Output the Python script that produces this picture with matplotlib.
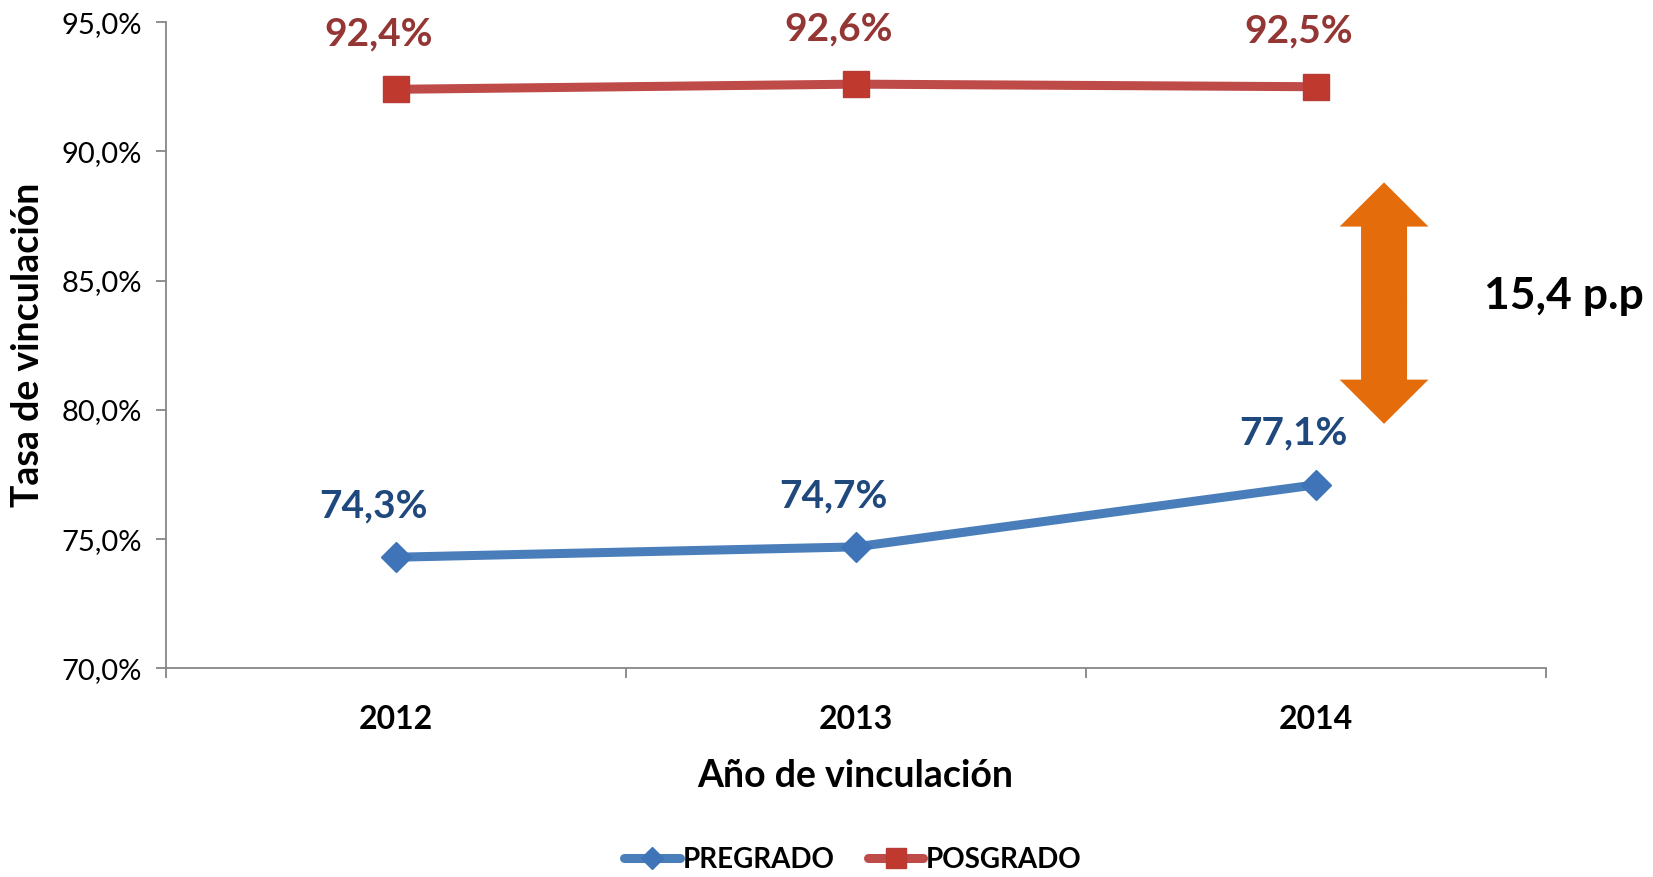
import matplotlib.pyplot as plt
from matplotlib.patches import FancyArrow
from matplotlib.ticker import FuncFormatter

plt.rcParams["font.family"] = ["Lato", "DejaVu Sans"]

# data
years = ["2012", "2013", "2014"]
pregrado = [74.3, 74.7, 77.1]
posgrado = [92.4, 92.6, 92.5]
gap_label = "15,4 p.p"

blue = "#4A7EBB"
red = "#BE4B48"
blue_txt = "#1F497D"
red_txt = "#943634"

fig = plt.figure(figsize=(16.53, 8.77), dpi=100)
ax = fig.add_axes([165.5 / 1653, 1 - 668.4 / 877, 1380 / 1653, 646.3 / 877])

x = list(range(len(years)))
ax.plot(x, pregrado, color=blue, lw=6.5, marker="D", ms=15,
        mfc="#3F75B8", mec="#3F75B8", label="PREGRADO", solid_capstyle="round")
ax.plot(x, posgrado, color=red, lw=6.5, marker="s", ms=19,
        mfc="#C0392F", mec="#B73A36", label="POSGRADO", solid_capstyle="round")

for xi, v in zip(x, pregrado):
    ax.annotate(f"{v:.1f}%".replace(".", ","), (xi, v), xytext=(-16, 37),
                textcoords="offset points", ha="center", va="center",
                fontsize=28, fontweight="bold", color=blue_txt)
for xi, v in zip(x, posgrado):
    ax.annotate(f"{v:.1f}%".replace(".", ","), (xi, v), xytext=(-12, 40),
                textcoords="offset points", ha="center", va="center",
                fontsize=28, fontweight="bold", color=red_txt)

ax.set_xlim(-0.5, len(years) - 0.5)
ax.set_ylim(70, 95)
ax.set_yticks([70, 75, 80, 85, 90, 95])
ax.yaxis.set_major_formatter(FuncFormatter(lambda v, p: f"{v:.1f}%".replace(".", ",")))
ax.set_xticks(x)
ax.set_xticklabels(years, fontsize=23, fontweight="bold")
ax.set_xticks([-0.5, 0.5, 1.5, 2.5], minor=True)
ax.tick_params(axis="x", which="major", length=0, pad=26)
ax.tick_params(axis="x", which="minor", length=7, color="#868686", width=1.3)
ax.tick_params(axis="y", labelsize=21, length=7, color="#868686", width=1.3, pad=10)

for s in ["top", "right"]:
    ax.spines[s].set_visible(False)
for s in ["left", "bottom"]:
    ax.spines[s].set_color("#868686")
    ax.spines[s].set_linewidth(1.3)

ax.set_xlabel("Año de vinculación", fontsize=27, fontweight="bold", labelpad=18)
ax.set_ylabel("Tasa de vinculación", fontsize=27, fontweight="bold", labelpad=12)

# gap arrow
arrow_x = 2.149
ax.add_patch(FancyArrow(arrow_x, 84.1, 0, 4.7, width=0.1, head_width=0.193,
                        head_length=1.71, length_includes_head=True,
                        color="#E46C0A", lw=0, clip_on=False))
ax.add_patch(FancyArrow(arrow_x, 84.2, 0, -4.74, width=0.1, head_width=0.193,
                        head_length=1.71, length_includes_head=True,
                        color="#E46C0A", lw=0, clip_on=False))
ax.text(2.54, 84.4, gap_label, ha="center", va="center", fontsize=32,
        fontweight="bold", color="black", clip_on=False)

leg = fig.legend(loc="center", bbox_to_anchor=(0.516, 1 - 860 / 877), ncol=2,
                 frameon=False, prop={"size": 20, "weight": "bold"},
                 handlelength=2.0, handletextpad=0.1, columnspacing=1.2,
                 markerscale=0.75)

fig.savefig("out.png", dpi=100)
